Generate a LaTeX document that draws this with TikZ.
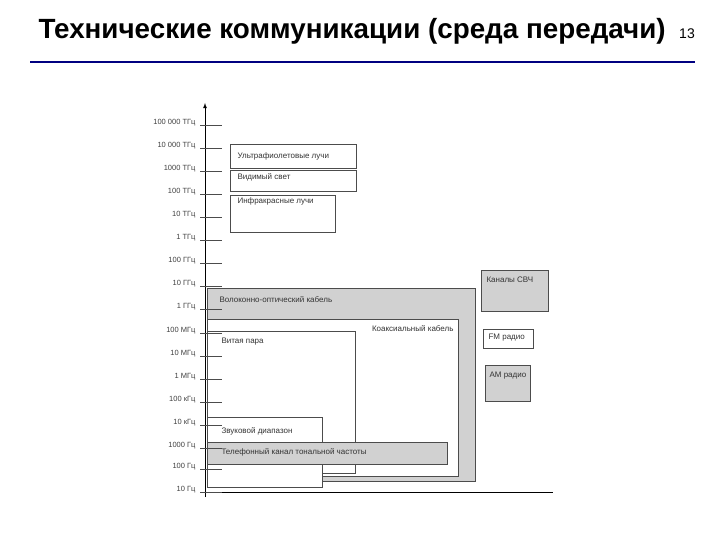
\documentclass[tikz,border=0pt]{standalone}
\usepackage{fontspec}
\setmainfont{Liberation Sans}
\begin{document}
\begin{tikzpicture}[x=1pt,y=-1pt,
  lbl/.style={font=\fontsize{8}{9}\selectfont, text=black!80},
  tk/.style={font=\fontsize{7.5}{8}\selectfont, anchor=east, text=black!75},
  bx/.style={draw=black!70, line width=0.6pt},
  gbx/.style={draw=black!70, fill=black!18, line width=0.6pt}]
\useasboundingbox (0,0) rectangle (720,540);
\node[anchor=west, font=\bfseries\fontsize{27.8}{29}\selectfont] (title) at (35,31) {Технические коммуникации (среда передачи)};
\node[font=\fontsize{14}{15}\selectfont] (num) at (687,34) {13};
\draw[blue!50!black, line width=1.5pt] (30,62) -- (695,62);
% boxes
\draw[gbx] (207,288) rectangle (475,481);
\draw[bx, fill=white] (207,319) rectangle (458,476);
\draw[bx, fill=white] (207,331) rectangle (355,473);
\draw[bx, fill=white] (207,417) rectangle (322,487);
\draw[gbx] (207,442) rectangle (447,464);
\draw[bx] (230,144) rectangle (356,168);
\draw[bx] (230,170) rectangle (356,191);
\draw[bx] (230,195) rectangle (335,232);
\draw[gbx] (481,270) rectangle (548,311);
\draw[bx] (483,329) rectangle (533,348);
\draw[gbx] (485,365) rectangle (530,401);
\node[lbl, anchor=west] (uv) at (234,156) {Ультрафиолетовые лучи};
\node[lbl, anchor=west] (vis) at (234,177) {Видимый свет};
\node[lbl, anchor=west] (ir) at (234,201) {Инфракрасные лучи};
\node[lbl, anchor=west] (fib) at (216,300) {Волоконно-оптический кабель};
\node[lbl, anchor=east] (cx) at (457,329) {Коаксиальный кабель};
\node[lbl, anchor=west] (tp) at (218,342) {Витая пара};
\node[lbl, anchor=west] (snd) at (218,431) {Звуковой диапазон};
\node[lbl, anchor=west] (tel) at (218,452) {Телефонный канал тональной частоты};
\node[lbl, anchor=west] (mw) at (483,280) {Каналы СВЧ};
\node[lbl, anchor=west] (fm) at (485,338) {FM радио};
\node[lbl, anchor=west] (am) at (486,376) {AM радио};
% axis
\coordinate (a0) at (205,497);
\coordinate (a1) at (205,103);
\draw[line width=0.8pt, -latex] (a0) -- (a1);
\draw[line width=0.8pt] (205,492) -- (553,492);
\foreach \y/\t in {125/100 000 ТГц,148/10 000 ТГц,171/1000 ТГц,194/100 ТГц,217/10 ТГц,240/1 ТГц,263/100 ГГц,286/10 ГГц,309/1 ГГц,333/100 МГц,356/10 МГц,379/1 МГц,402/100 кГц,425/10 кГц,448/1000 Гц,469/100 Гц,492/10 Гц}{
  \draw[black!70] (200,\y) -- (222,\y);
  \node[tk] at (199,\y-2) {\t};
}
\end{tikzpicture}
\end{document}
